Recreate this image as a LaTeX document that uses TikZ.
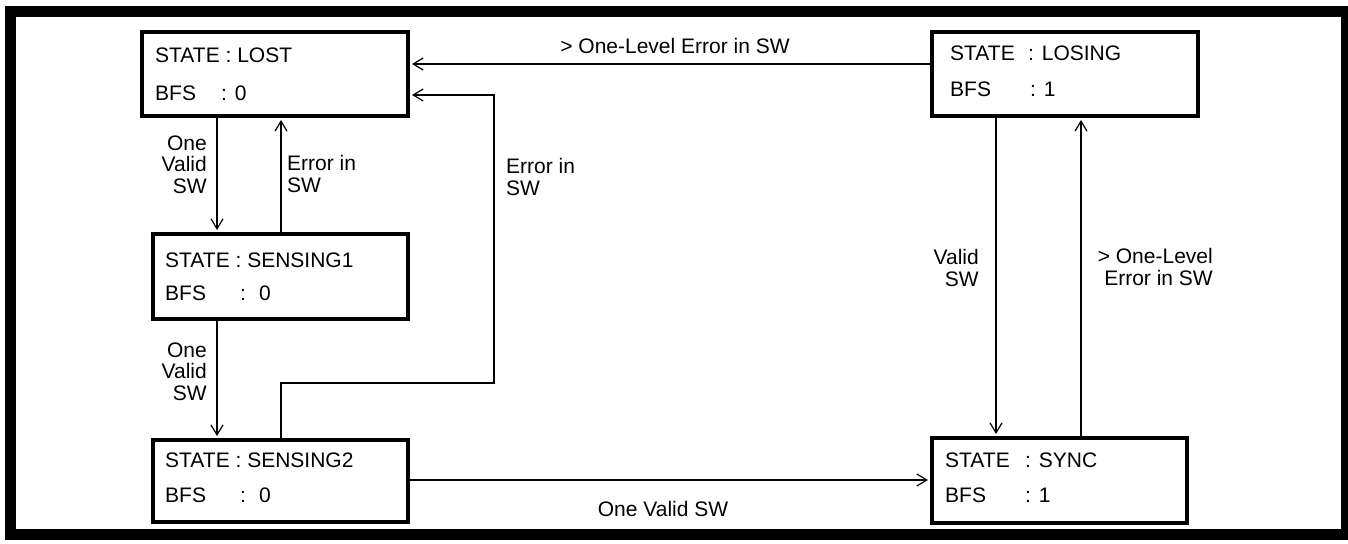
\documentclass[tikz,border=0pt]{standalone}
\usepackage{fontspec}
\setmainfont{Liberation Sans}
\usetikzlibrary{arrows.meta}
\begin{document}
\begin{tikzpicture}[x=1pt,y=-1pt,
  txt/.style={inner sep=0pt, font=\fontsize{21}{21.5}\selectfont, anchor=base west},
  lbl/.style={inner sep=0pt, font=\fontsize{21}{21.5}\selectfont},
  statebox/.style={draw, line width=4pt, rectangle, inner sep=0pt},
  arr/.style={line width=1.2pt, shorten >=2pt, -{Straight Barb[length=10pt,width=12pt,line width=1.2pt]}},
]
\useasboundingbox (0,0) rectangle (1348,543);
\draw[line width=11pt] (10.5,11.5) rectangle (1346,534.5);

% state boxes
\node[statebox, minimum width=266pt, minimum height=84pt] (lost) at (275,74) {};
\node[txt] (lost1) at (155,63) {STATE : LOST};
\node[txt] (lost2) at (155,100) {BFS};
\node[txt] (lost3) at (221,100) {: 0};

\node[statebox, minimum width=255pt, minimum height=85pt] (s1) at (280.5,276.5) {};
\node[txt] (s1a) at (165,267) {STATE : SENSING1};
\node[txt] (s1b) at (165,300) {BFS};
\node[txt] (s1c) at (240,300) {:\hspace{13pt}0};

\node[statebox, minimum width=255pt, minimum height=82pt] (s2) at (280.5,481) {};
\node[txt] (s2a) at (165,467) {STATE : SENSING2};
\node[txt] (s2b) at (165,502) {BFS};
\node[txt] (s2c) at (240,502) {:\hspace{13pt}0};

\node[statebox, minimum width=266pt, minimum height=84pt] (losing) at (1065,74) {};
\node[txt] (losa) at (950,60) {STATE};
\node[txt] (losb) at (1028,60) {: LOSING};
\node[txt] (losc) at (950,96) {BFS};
\node[txt] (losd) at (1030,96) {: 1};

\node[statebox, minimum width=255pt, minimum height=85pt] (sync) at (1059.5,480.5) {};
\node[txt] (sya) at (945,467) {STATE};
\node[txt] (syb) at (1025,467) {: SYNC};
\node[txt] (syc) at (945,502) {BFS};
\node[txt] (syd) at (1025,502) {: 1};

% guide coordinates
\coordinate (xa) at (217,0);
\coordinate (xb) at (281,0);
\coordinate (xc) at (494,0);
\coordinate (xd) at (996,0);
\coordinate (xe) at (1081,0);
\coordinate (ya) at (0,64);
\coordinate (yb) at (0,95);
\coordinate (yc) at (0,383);
\coordinate (yd) at (0,480);

% connectors
\draw[arr] (lost.south -| xa) -- (s1.north -| xa);
\draw[arr] (s1.north -| xb) -- (lost.south -| xb);
\draw[arr] (s1.south -| xa) -- (s2.north -| xa);
\draw[arr] (s2.north -| xb) -- (yc -| xb) -- (yc -| xc) -- (yb -| xc) -- (lost.east |- yb);
\draw[arr] (losing.west |- ya) -- (lost.east |- ya);
\draw[arr] (losing.south -| xd) -- (sync.north -| xd);
\draw[arr] (sync.north -| xe) -- (losing.south -| xe);
\draw[arr] (s2.east |- yd) -- (sync.west |- yd);

% labels (base anchor = baseline of last line)
\node[lbl, align=right, anchor=base east] (l1) at (207,193) {One\\Valid\\SW};
\node[lbl, align=left, anchor=base west] (l2) at (287,192) {Error in\\SW};
\node[lbl, align=right, anchor=base east] (l3) at (207,400) {One\\Valid\\SW};
\node[lbl, align=left, anchor=base west] (l4) at (506,195) {Error in\\SW};
\node[lbl, anchor=base] (l5) at (675,53) {> One-Level Error in SW};
\node[lbl, align=right, anchor=base east] (l6) at (979,286) {Valid\\SW};
\node[lbl, align=right, anchor=base east] (l7) at (1213,285) {> One-Level\\Error in SW};
\node[lbl, anchor=base] (l8) at (663,516) {One Valid SW};
\end{tikzpicture}
\end{document}
